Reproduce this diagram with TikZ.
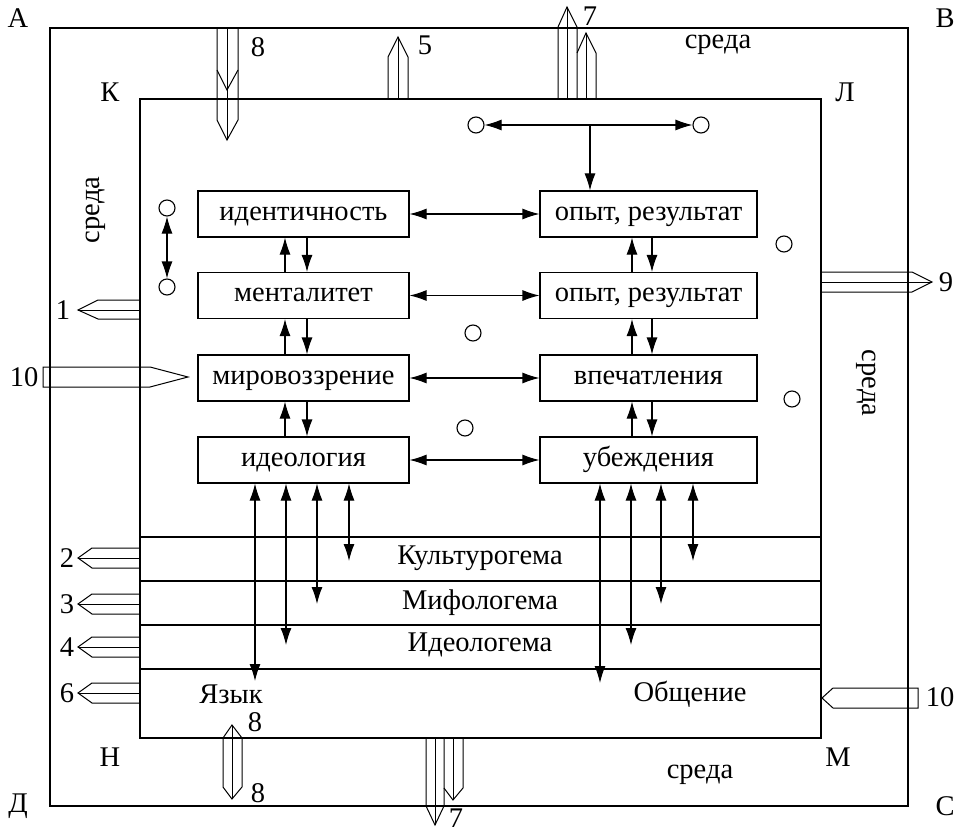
\documentclass[tikz,border=0pt]{standalone}
\usepackage{fontspec}
\setmainfont{Liberation Serif}
\usetikzlibrary{arrows.meta}
\tikzset{
  base/.style={line width=1.1pt},
  box/.style={base, draw, rectangle, minimum height=46pt, inner sep=0pt, text height=12.5pt, text depth=0pt, font=\fontsize{28.5}{32}\selectfont},
  lbox/.style={box, minimum width=211pt},
  rbox/.style={box, minimum width=217pt},
  dot/.style={base, draw, circle, minimum size=16pt, inner sep=0pt},
  con/.style={base, -{Latex[length=17pt,width=11pt]}},
  dcon/.style={base, {Latex[length=17pt,width=11pt]}-{Latex[length=17pt,width=11pt]}},
  lbl/.style={font=\fontsize{28.5}{32}\selectfont, inner sep=0pt},
  blk/.style={line width=1pt, line join=miter}
}
\begin{document}
\begin{tikzpicture}[x=1pt,y=-1pt]
\useasboundingbox (0,0) rectangle (964,832);
% frames
\draw[base] (50,28) rectangle (908,806);
\draw[base] (140,99) rectangle (821,738);
\foreach \yy in {537,581,625,669} \draw[base] (140,\yy) -- (821,\yy);
% corner letters
\node[lbl] at (18,18) {А};
\node[lbl] at (945,18) {В};
\node[lbl] at (18,806) {Д};
\node[lbl] at (945,806) {С};
\node[lbl] at (110,92) {К};
\node[lbl] at (845,92) {Л};
\node[lbl] at (110,757) {Н};
\node[lbl] at (838,757) {М};
% среда
\node[lbl] at (718,45) {среда};
\node[lbl] at (700,775) {среда};
\node[lbl, rotate=90] at (96,210) {среда};
\node[lbl, rotate=-90] at (866,383) {среда};
% boxes
\node[lbox] (id) at (303.5,214) {идентичность};
\node[lbox] (ment) at (303.5,295.5) {менталитет};
\node[lbox] (mir) at (303.5,378) {мировоззрение};
\node[lbox] (ideo) at (303.5,460) {идеология};
\node[rbox] (op1) at (648.5,214) {опыт, результат};
\node[rbox] (op2) at (648.5,295.5) {опыт, результат};
\node[rbox] (vp) at (648.5,378) {впечатления};
\node[rbox] (ub) at (648.5,460) {убеждения};
% horizontal connectors
\draw[dcon] (id) -- (op1);
\draw[dcon] (ment) -- (op2);
\draw[dcon] (mir) -- (vp);
\draw[dcon] (ideo) -- (ub);
% vertical connectors between boxes
\coordinate (lu) at (285,0); \coordinate (ld) at (307,0);
\coordinate (ru) at (632,0); \coordinate (rd) at (652,0);
\foreach \a/\b in {id/ment, ment/mir, mir/ideo}{
  \draw[con] (\b.north -| lu) -- (\a.south -| lu);
  \draw[con] (\a.south -| ld) -- (\b.north -| ld);
}
\foreach \a/\b in {op1/op2, op2/vp, vp/ub}{
  \draw[con] (\b.north -| ru) -- (\a.south -| ru);
  \draw[con] (\a.south -| rd) -- (\b.north -| rd);
}
% top circles
\node[dot] (c1) at (476,125) {};
\node[dot] (c2) at (701,125) {};
\draw[dcon] (c1) -- (c2);
\coordinate (tj) at (590,125);
\draw[con] (tj) -- (op1.north -| tj);
% other circles
\node[dot] (c3) at (167,208) {};
\node[dot] (c4) at (167,287) {};
\draw[dcon] (c3) -- (c4);
\node[dot] (c5) at (473,333) {};
\node[dot] (c6) at (784,244) {};
\node[dot] (c7) at (792,399) {};
\node[dot] (c8) at (465,428) {};
% band labels
\node[lbl] at (480,558) {Культурогема};
\node[lbl] at (480,603) {Мифологема};
\node[lbl] at (480,645) {Идеологема};
\node[lbl] at (231,694) {Язык};
\node[lbl] at (690,694) {Общение};
% arrows from bottom boxes into bands
\coordinate (e1) at (255,681); \coordinate (e2) at (286,645);
\coordinate (e3) at (317,604); \coordinate (e4) at (349,561);
\coordinate (f1) at (600,683); \coordinate (f2) at (631,645);
\coordinate (f3) at (661,604); \coordinate (f4) at (693,561);
\foreach \e in {e1,e2,e3,e4} \draw[dcon] (ideo.south -| \e) -- (\e);
\foreach \f in {f1,f2,f3,f4} \draw[dcon] (ub.south -| \f) -- (\f);
% block arrows
% top 8
\draw[blk] (217,28) -- (217,120) -- (227,140) -- (238,120) -- (238,28);
\draw[blk] (227,28) -- (227,140);
\draw[blk] (217,70) -- (227,90) -- (238,70);
\node[lbl] at (258,47) {8};
% 5
\draw[blk] (388,99) -- (388,57) -- (398,37) -- (408,57) -- (408,99);
\draw[blk] (398,99) -- (398,37);
\node[lbl] at (425,45) {5};
% top 7
\draw[blk] (558,99) -- (558,27) -- (567,7) -- (577,27) -- (577,99);
\draw[blk] (567,99) -- (567,7);
\draw[blk] (577,53) -- (586,33) -- (596,53) -- (596,99);
\draw[blk] (586,99) -- (586,33);
\node[lbl] at (590,16) {7};
% 1
\draw[blk] (140,300) -- (98,300) -- (78,310) -- (98,319) -- (140,319);
\draw[blk] (140,310) -- (78,310);
\node[lbl] at (63,310) {1};
% left 10
\draw[blk] (150,367) -- (43,367) -- (43,387) -- (150,387) -- (188,377) -- cycle;
\node[lbl] at (24,377) {10};
% 2 3 4 6
\foreach \c/\n in {558/2, 604/3, 647/4, 693/6}{
  \draw[blk] (140,\c-10) -- (92,\c-10) -- (78,\c) -- (92,\c+10) -- (140,\c+10);
  \draw[blk] (140,\c) -- (78,\c);
  \node[lbl] at (67,\c) {\n};
}
% 9
\draw[blk] (821,272) -- (912,272) -- (932,282) -- (912,292) -- (821,292);
\draw[blk] (821,282) -- (932,282);
\node[lbl] at (946,282) {9};
% right 10
\draw[blk] (918,688) -- (833,688) -- (822,698) -- (833,708) -- (918,708) -- cycle;
\node[lbl] at (940,697) {10};
% bottom 8
\draw[blk] (232,725) -- (242,738) -- (242,787) -- (232,799) -- (223,787) -- (223,738) -- cycle;
\draw[blk] (232,725) -- (232,799);
\node[lbl] at (255,722) {8};
\node[lbl] at (258,793) {8};
% bottom 7
\draw[blk] (426,738) -- (426,806) -- (435,825) -- (444,806) -- (444,738);
\draw[blk] (435,738) -- (435,825);
\draw[blk] (444,788) -- (453,800) -- (463,788) -- (463,738);
\draw[blk] (453,738) -- (453,800);
\node[lbl] at (456,818) {7};
\end{tikzpicture}
\end{document}
